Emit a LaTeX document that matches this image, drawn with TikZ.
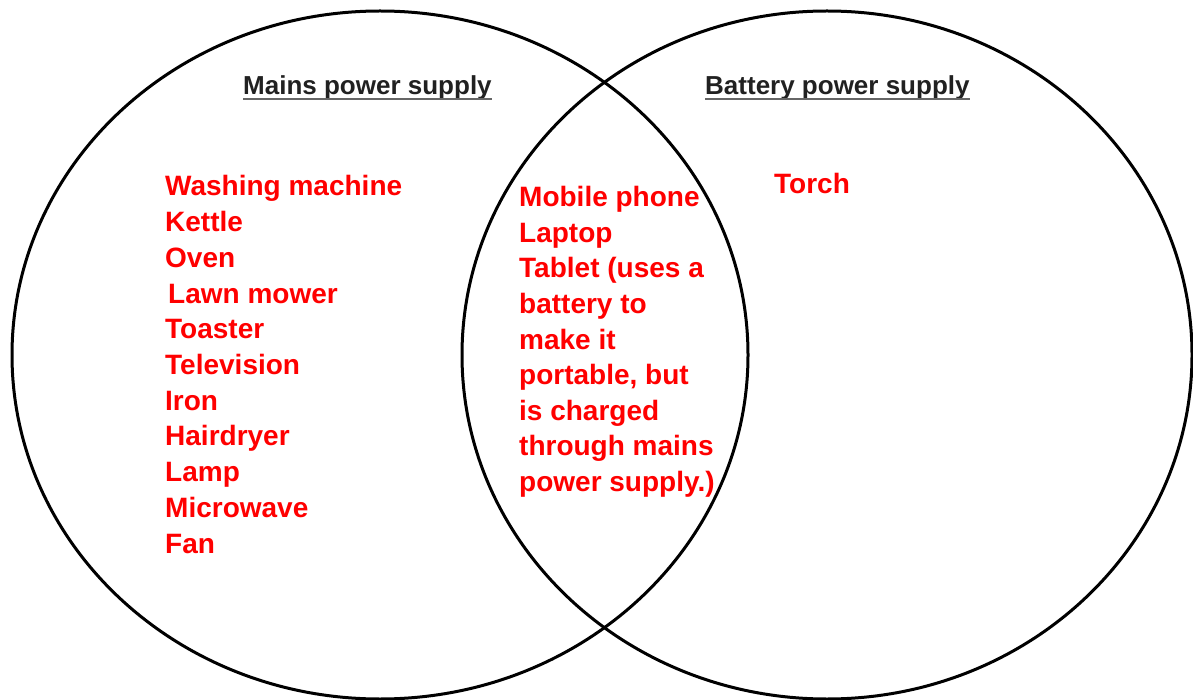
\documentclass[tikz,border=0pt]{standalone}
\usepackage{fontspec}
\setmainfont{Liberation Sans}
\begin{document}
\begin{tikzpicture}[x=1pt,y=-1pt,
  ring/.style={line width=3pt,black},
  head/.style={anchor=base west,inner sep=0pt,text=black!87,font=\fontsize{26}{30}\selectfont\bfseries},
  uline/.style={line width=2pt,black!60},
  item/.style={anchor=base west,inner sep=0pt,text=red,font=\fontsize{28}{34}\selectfont\bfseries}]
\useasboundingbox (0,0) rectangle (1193,700);
\fill[white] (0,0) rectangle (1193,700);
\draw[ring] (380,355) ellipse [x radius=368pt, y radius=344pt];
\draw[ring] (827,355) ellipse [x radius=365pt, y radius=344pt];
\node[head] (hm) at (243,95) {Mains power supply};
\node[head] (hb) at (705,95) {Battery power supply};
\draw[uline] ([yshift=-4pt]hm.base west) -- ([yshift=-4pt]hm.base east);
\draw[uline] ([yshift=-4pt]hb.base west) -- ([yshift=-4pt]hb.base east);
\foreach \t [count=\i] in {Washing machine,Kettle,Oven,\hspace*{3pt}Lawn mower,Toaster,Television,Iron,Hairdryer,Lamp,Microwave,Fan}
  \node[item] (m\i) at (165,{196+35.7*(\i-1)}) {\t};
\foreach \t [count=\i] in {Mobile phone,Laptop,Tablet (uses a,battery to,make it,{portable, but},is charged,through mains,power supply.)}
  \node[item] (b\i) at (519,{207+35.5*(\i-1)}) {\t};
\node[item] (torch) at (774,194) {Torch};
\end{tikzpicture}
\end{document}
